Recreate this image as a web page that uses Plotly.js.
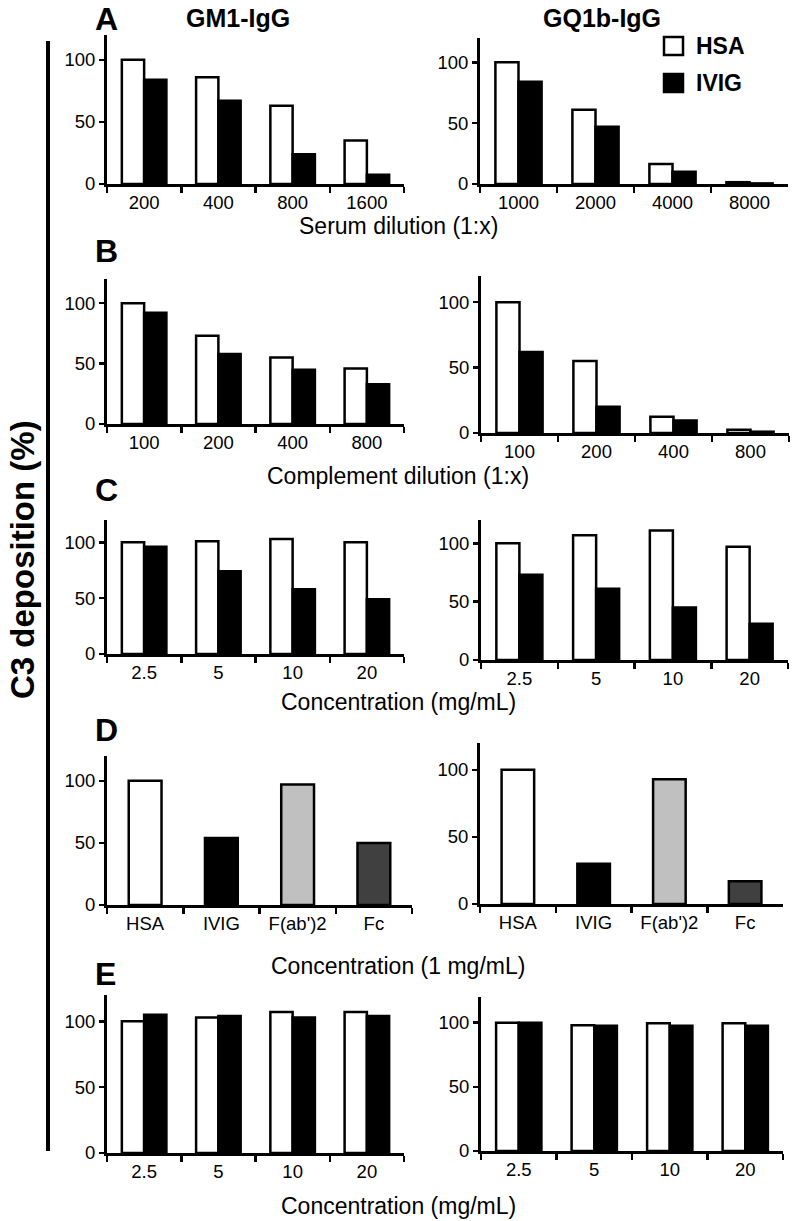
<!DOCTYPE html>
<html>
<head>
<meta charset="utf-8">
<script src="https://cdn.plot.ly/plotly-3.0.1.min.js"></script>
<style>html,body{margin:0;padding:0;background:#fff;}#chart{width:794px;height:1221px;}</style>
</head>
<body>
<div id="chart"></div>
<script>
// ---------- DATA ----------
const serumGM1 = ['200', '400', '800', '1600'];
const serumGQ1b = ['1000', '2000', '4000', '8000'];
const complementDil = ['100', '200', '400', '800'];
const concentration = ['2.5', '5', '10', '20'];
const fragments = ['HSA', 'IVIG', "F(ab')2", 'Fc'];

const aGM1_HSA = [100, 86, 63, 35];
const aGM1_IVIG = [84, 67, 24, 7.5];
const aGQ1b_HSA = [100, 61, 16.5, 1.5];
const aGQ1b_IVIG = [84, 47, 10, 0.5];

const bGM1_HSA = [100, 73, 55, 46];
const bGM1_IVIG = [92, 58, 45, 33];
const bGQ1b_HSA = [100, 55, 12.5, 2.5];
const bGQ1b_IVIG = [62, 20, 9.5, 1];

const cGM1_HSA = [100, 101, 103, 100];
const cGM1_IVIG = [96, 74, 58, 49];
const cGQ1b_HSA = [100, 107, 111, 97];
const cGQ1b_IVIG = [73, 61, 45, 31];

const dGM1 = [100, 54, 97, 50];
const dGQ1b = [100, 30, 93, 17];

const eGM1_HSA = [100, 103, 107, 107];
const eGM1_IVIG = [105, 104, 103, 104];
const eGQ1b_HSA = [100, 98, 99.5, 99.5];
const eGQ1b_IVIG = [100, 97.5, 97.5, 97.5];

const seriesNames = ['HSA', 'IVIG'];
const columnTitles = ['GM1-IgG', 'GQ1b-IgG'];
const xTitles = ['Serum dilution (1:x)', 'Complement dilution (1:x)', 'Concentration (mg/mL)', 'Concentration (1 mg/mL)', 'Concentration (mg/mL)'];
const panelLetters = ['A', 'B', 'C', 'D', 'E'];
const yTitle = 'C3 deposition (%)';

// ---------- STYLE / LAYOUT ----------
const W = 794, H = 1221;
const FONT = 'Liberation Sans, Arial, Helvetica, sans-serif';
const fx = p => p / W;
const fy = p => 1 - p / H;
const fragColors = ['#ffffff', '#000000', '#c0c0c0', '#404040'];
const seriesColors = ['#ffffff', '#000000'];

// pixel boxes [x0,x1],[yTop,yBottom]
const boxes = [
  {x: [107, 404], y: [35, 184]}, {x: [480, 788], y: [38, 184]},
  {x: [107, 404], y: [279, 424]}, {x: [481, 789], y: [276, 433]},
  {x: [107, 404], y: [520, 654]}, {x: [481, 788], y: [520, 660]},
  {x: [107, 412], y: [756, 905]}, {x: [480, 783], y: [743, 904]},
  {x: [107, 404], y: [995, 1153]}, {x: [481, 783], y: [997, 1151]}
];

const grouped = [
  {cats: serumGM1, h: aGM1_HSA, v: aGM1_IVIG},
  {cats: serumGQ1b, h: aGQ1b_HSA, v: aGQ1b_IVIG},
  {cats: complementDil, h: bGM1_HSA, v: bGM1_IVIG},
  {cats: complementDil, h: bGQ1b_HSA, v: bGQ1b_IVIG},
  {cats: concentration, h: cGM1_HSA, v: cGM1_IVIG},
  {cats: concentration, h: cGQ1b_HSA, v: cGQ1b_IVIG},
  null, null,
  {cats: concentration, h: eGM1_HSA, v: eGM1_IVIG},
  {cats: concentration, h: eGQ1b_HSA, v: eGQ1b_IVIG}
];

const traces = [];
const layout = {
  width: W, height: H,
  margin: {l: 0, r: 0, t: 0, b: 0},
  paper_bgcolor: '#fff', plot_bgcolor: '#fff',
  showlegend: false,
  barmode: 'group', bargap: 0.4, bargroupgap: 0,
  font: {family: FONT, color: '#000', size: 18},
  annotations: [], shapes: []
};

boxes.forEach((b, i) => {
  const n = i + 1;
  const xa = 'x' + (n === 1 ? '' : n), ya = 'y' + (n === 1 ? '' : n);
  const lineStyle = {color: '#000', width: 2.5};
  if (grouped[i]) {
    const g = grouped[i];
    [g.h, g.v].forEach((vals, k) => {
      traces.push({
        type: 'bar', x: g.cats, y: vals, name: seriesNames[k],
        xaxis: xa, yaxis: ya,
        marker: {color: seriesColors[k], line: lineStyle},
        hoverinfo: 'x+y+name'
      });
    });
  } else {
    traces.push({
      type: 'bar', x: fragments, y: i === 6 ? dGM1 : dGQ1b,
      xaxis: xa, yaxis: ya, width: 0.43,
      marker: {color: fragColors, line: lineStyle}
    });
  }
  layout['xaxis' + (n === 1 ? '' : n)] = {
    domain: [fx(b.x[0]), fx(b.x[1])], anchor: ya, type: 'category',
    showline: true, linecolor: '#000', linewidth: 3,
    ticks: 'outside', tickson: 'boundaries', ticklen: 6, tickwidth: 2.5, tickcolor: '#000',
    showgrid: false, zeroline: false, fixedrange: true,
    tickfont: {family: FONT, size: 18.5, color: '#000'}
  };
  layout['yaxis' + (n === 1 ? '' : n)] = {
    domain: [fy(b.y[1]), fy(b.y[0])], anchor: xa, range: [0, 120],
    tickvals: [0, 50, 100], showline: true, linecolor: '#000', linewidth: 3,
    ticks: 'outside', ticklen: 5, tickwidth: 2.5, tickcolor: '#000',
    showgrid: false, zeroline: false, fixedrange: true,
    tickfont: {family: FONT, size: 18.5, color: '#000'}
  };
});

// column titles
[[238, 18], [602, 18]].forEach((p, i) => layout.annotations.push({
  xref: 'paper', yref: 'paper', x: fx(p[0]), y: fy(p[1]), text: '<b>' + columnTitles[i] + '</b>',
  showarrow: false, xanchor: 'center', yanchor: 'middle', font: {family: FONT, size: 25}
}));
// panel letters
[19, 251, 490, 730, 974].forEach((py, i) => layout.annotations.push({
  xref: 'paper', yref: 'paper', x: fx(93), y: fy(py), text: '<b>' + panelLetters[i] + '</b>',
  showarrow: false, xanchor: 'left', yanchor: 'middle', font: {family: FONT, size: 32}
}));
// x titles
[226, 476, 702, 966, 1206].forEach((py, i) => layout.annotations.push({
  xref: 'paper', yref: 'paper', x: fx(398), y: fy(py), text: xTitles[i],
  showarrow: false, xanchor: 'center', yanchor: 'middle', font: {family: FONT, size: 23}
}));
// y title
layout.annotations.push({
  xref: 'paper', yref: 'paper', x: fx(22), y: fy(560), text: '<b>' + yTitle + '</b>',
  showarrow: false, textangle: -90, xanchor: 'center', yanchor: 'middle', font: {family: FONT, size: 33}
});
// left bracket line
layout.shapes.push({type: 'line', xref: 'paper', yref: 'paper', x0: fx(48), x1: fx(48), y0: fy(41), y1: fy(1151), line: {color: '#000', width: 4}});
// legend
[[46, 0], [83, 1]].forEach(([py, k]) => {
  layout.shapes.push({type: 'rect', xref: 'paper', yref: 'paper', x0: fx(664), x1: fx(683), y0: fy(py + 9), y1: fy(py - 9),
    fillcolor: seriesColors[k], line: {color: '#000', width: 2.5}});
  layout.annotations.push({xref: 'paper', yref: 'paper', x: fx(694), y: fy(py), text: '<b>' + seriesNames[k] + '</b>',
    showarrow: false, xanchor: 'left', yanchor: 'middle', font: {family: FONT, size: 23}});
});

Plotly.newPlot('chart', traces, layout, {staticPlot: true});
</script>
</body>
</html>
